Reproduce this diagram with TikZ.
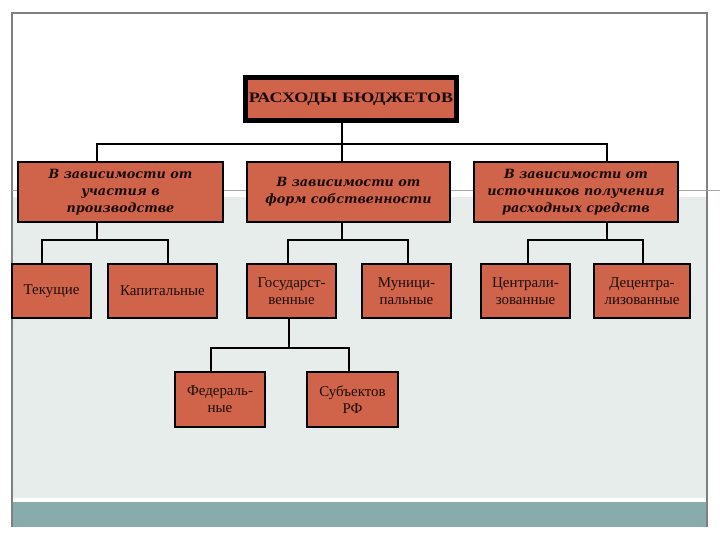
\documentclass[tikz,border=0pt]{standalone}
\usepackage{fontspec}
\setmainfont{Liberation Serif}
\newfontfamily\titlefont[FakeStretch=1.25]{Liberation Serif}
\newfontfamily\catfont{DejaVu Serif}
\definecolor{boxfill}{RGB}{207,100,74}
\definecolor{lightbg}{RGB}{230,237,235}
\definecolor{tealband}{RGB}{136,172,171}
\definecolor{framegray}{RGB}{128,128,128}
\definecolor{inkc}{RGB}{28,12,8}
\tikzset{
  box/.style={draw=black, fill=boxfill, line width=1.3bp, inner sep=0pt, align=center, text=inkc},
  titlebox/.style={box, line width=5bp, font=\titlefont\bfseries\fontsize{14.5}{17}\selectfont},
  catbox/.style={box, minimum height=60bp, font=\catfont\bfseries\itshape\fontsize{12.8}{17}\selectfont},
  leafbox/.style={box, font=\fontsize{15}{17}\selectfont},
  conn/.style={draw=black, line width=1.3bp}
}
\begin{document}
\begin{tikzpicture}[x=1bp,y=-1bp]
\useasboundingbox (0,0) rectangle (720,540);
% background frame
\fill[white] (0,0) rectangle (720,540);
\fill[lightbg] (12,197) rectangle (707,498);
\fill[tealband] (12,502) rectangle (707,527);
\draw[framegray, line width=1.3bp] (12,527) -- (12,13) -- (707,13) -- (707,527);
\draw[framegray!70, line width=0.9bp] (12,190) -- (720,190);

% nodes
\node[titlebox, minimum width=211bp, minimum height=43bp] (top) at (351,99) {РАСХОДЫ БЮДЖЕТОВ};

\node[catbox, minimum width=205bp] (b1) at (120.5,192) {В зависимости от\\участия в\\производстве};
\node[catbox, minimum width=203bp] (b2) at (348.5,192) {В зависимости от\\форм собственности};
\node[catbox, minimum width=204bp] (b3) at (576,192) {В зависимости от\\источников получения\\расходных средств};

\node[leafbox, minimum width=79bp, minimum height=54bp] (c1) at (51.5,291) {Текущие};
\node[leafbox, minimum width=109bp, minimum height=54bp] (c2) at (162.5,291) {Капитальные};
\node[leafbox, minimum width=89bp, minimum height=54bp] (c3) at (291.5,291) {Государст-\\венные};
\node[leafbox, minimum width=89bp, minimum height=54bp] (c4) at (406.5,291) {Муници-\\пальные};
\node[leafbox, minimum width=89bp, minimum height=54bp] (c5) at (525.5,291) {Централи-\\зованные};
\node[leafbox, minimum width=96bp, minimum height=54bp] (c6) at (642,291) {Децентра-\\лизованные};

\node[leafbox, minimum width=90bp, minimum height=55bp] (d1) at (220,399.5) {Федераль-\\ные};
\node[leafbox, minimum width=91bp, minimum height=55bp] (d2) at (352.5,399.5) {Субъектов\\РФ};

% junction coordinates
\coordinate (j0) at (342,144);
\coordinate (j0a) at (97,144);
\coordinate (j0b) at (607,144);
\coordinate (j1) at (97,240);
\coordinate (j1a) at (42,240);
\coordinate (j1b) at (168,240);
\coordinate (j2) at (342,240);
\coordinate (j2a) at (288,240);
\coordinate (j2b) at (408,240);
\coordinate (j3) at (607,240);
\coordinate (j3a) at (528,240);
\coordinate (j3b) at (643,240);
\coordinate (j4) at (289,348);
\coordinate (j4a) at (211,348);
\coordinate (j4b) at (349,348);

% connectors
\draw[conn] (top.south -| j0) -- (j0);
\draw[conn] (b1.north -| j0a) -- (j0a) -- (j0b) -- (b3.north -| j0b);
\draw[conn] (j0) -- (b2.north -| j0);

\draw[conn] (b1.south -| j1) -- (j1);
\draw[conn] (c1.north -| j1a) -- (j1a) -- (j1b) -- (c2.north -| j1b);

\draw[conn] (b2.south -| j2) -- (j2);
\draw[conn] (c3.north -| j2a) -- (j2a) -- (j2b) -- (c4.north -| j2b);

\draw[conn] (b3.south -| j3) -- (j3);
\draw[conn] (c5.north -| j3a) -- (j3a) -- (j3b) -- (c6.north -| j3b);

\draw[conn] (c3.south -| j4) -- (j4);
\draw[conn] (d1.north -| j4a) -- (j4a) -- (j4b) -- (d2.north -| j4b);
\end{tikzpicture}
\end{document}
